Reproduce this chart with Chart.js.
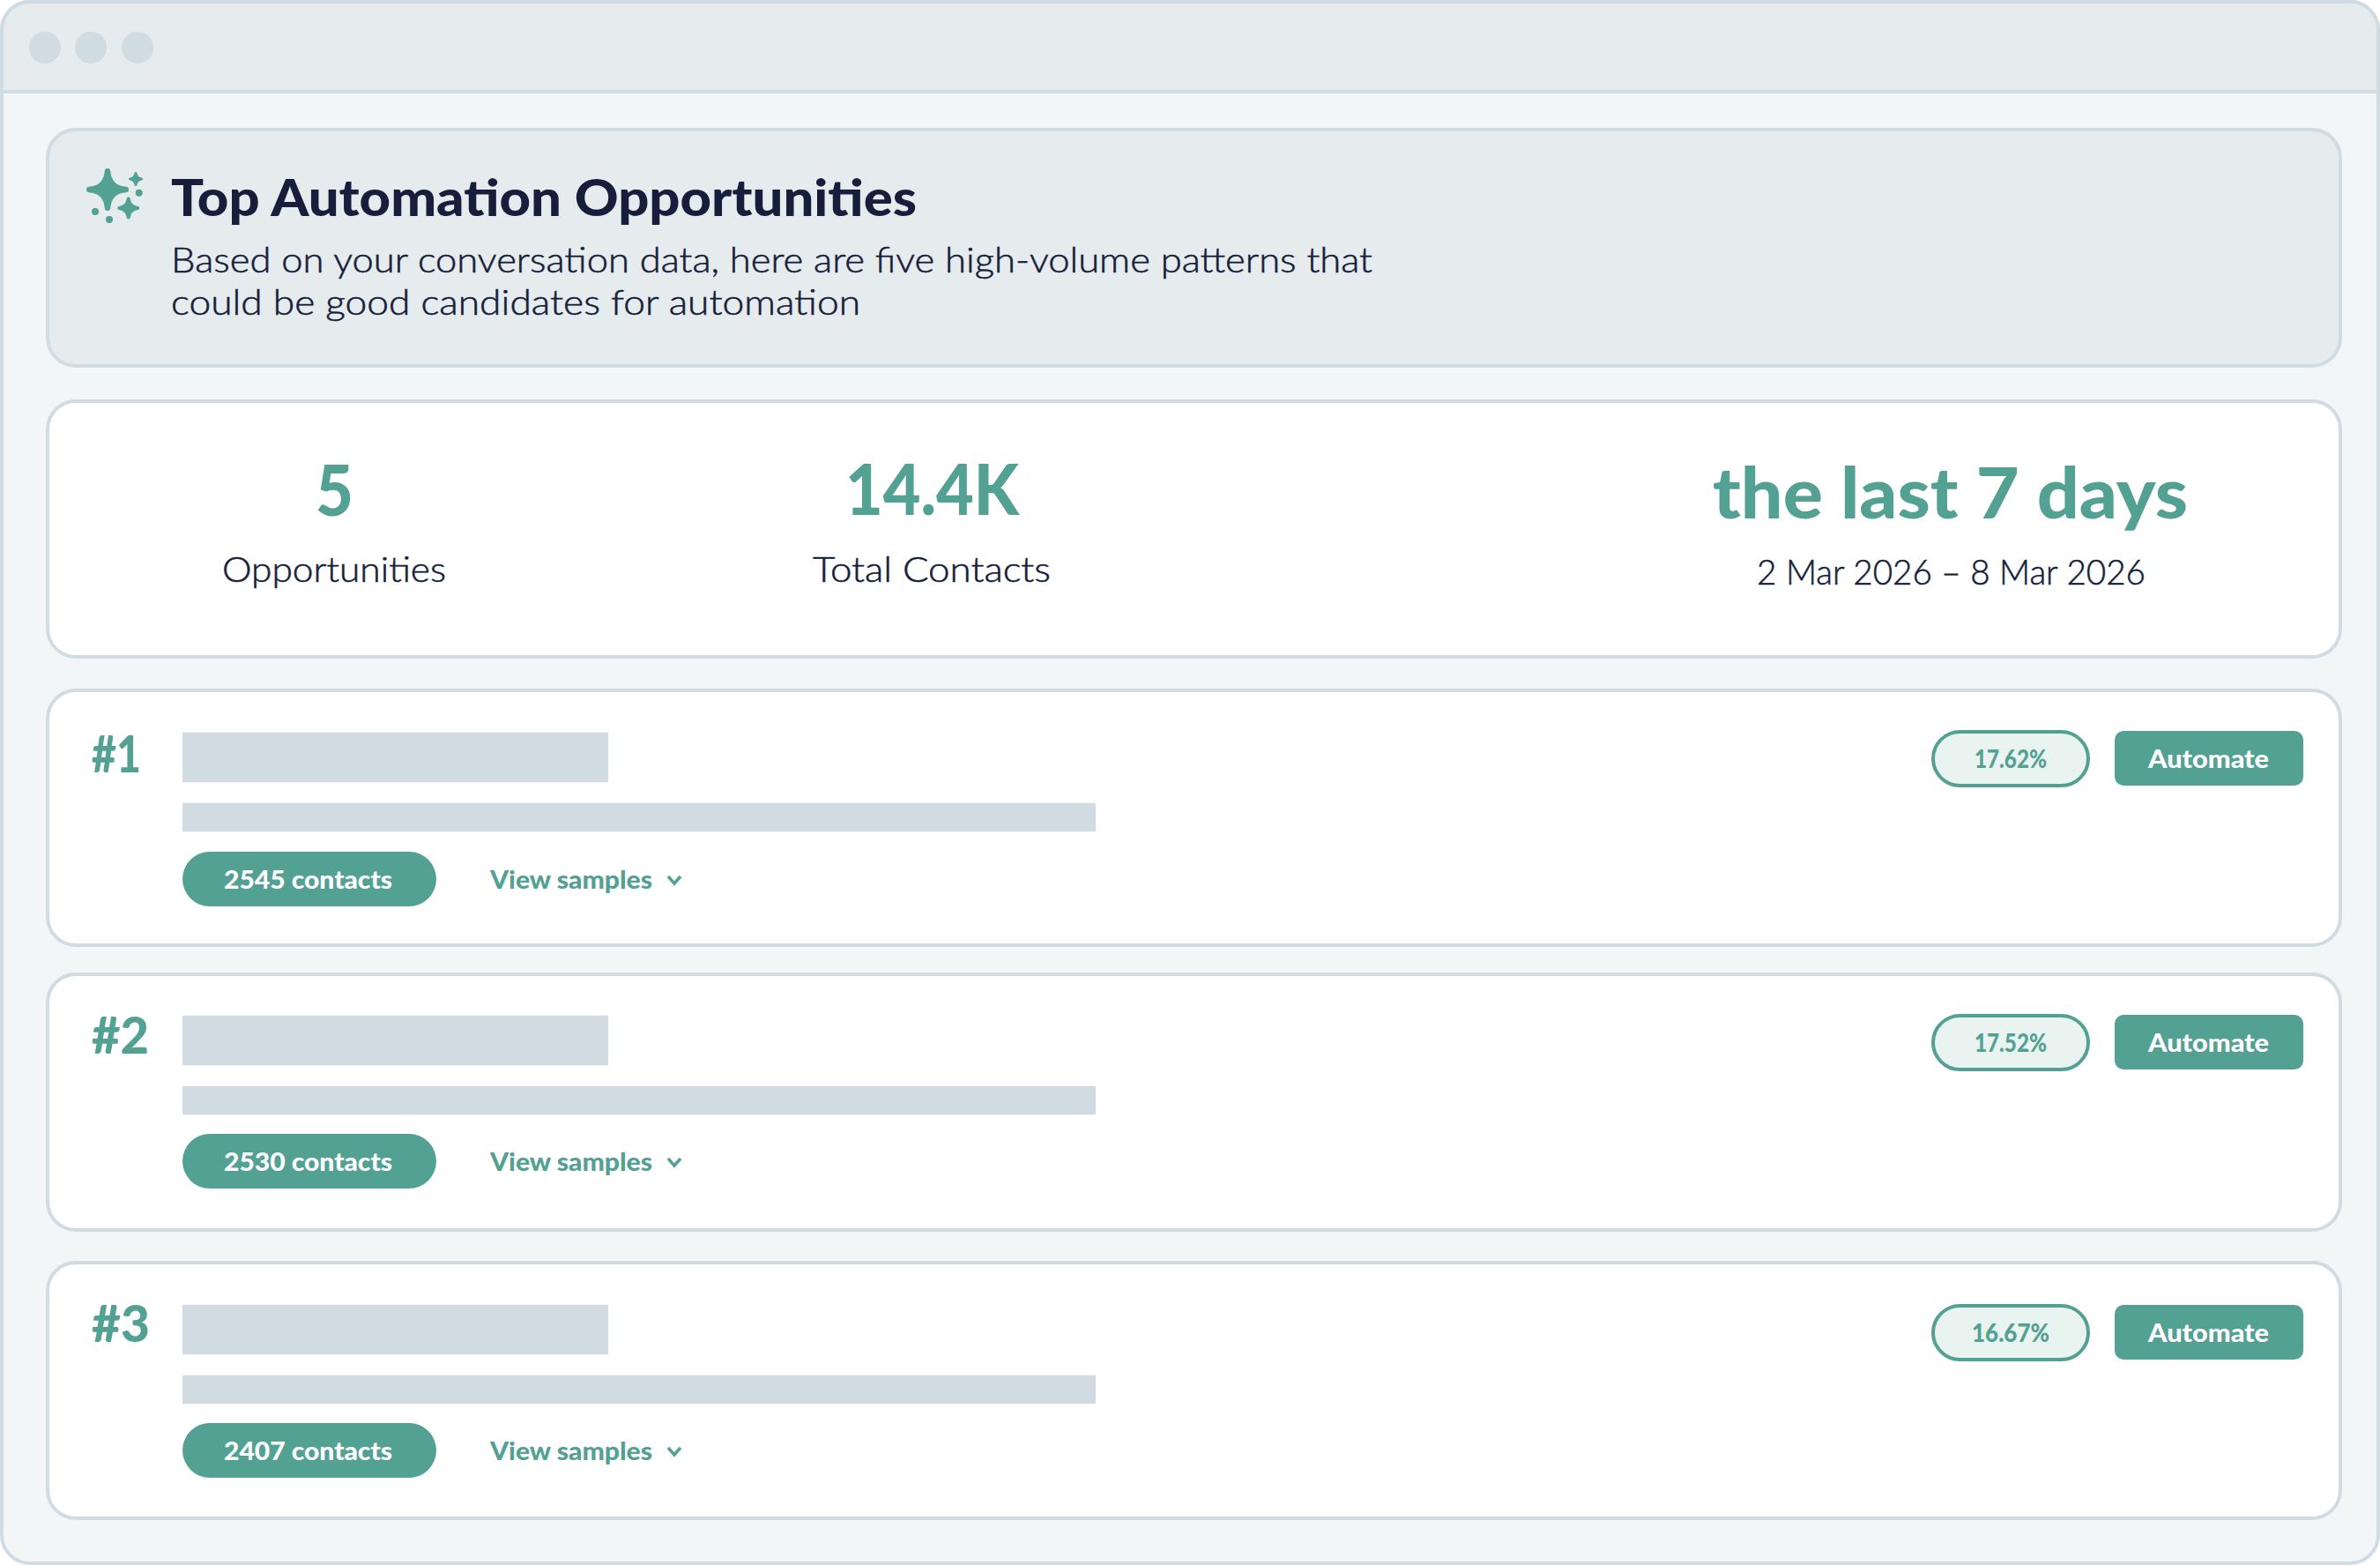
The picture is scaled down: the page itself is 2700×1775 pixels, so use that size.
<!DOCTYPE html>
<html><head><meta charset="utf-8">
<script src="https://cdn.jsdelivr.net/npm/chart.js@4"></script>
<style>
html,body{margin:0;padding:0;background:#fff;width:2700px;height:1775px;overflow:hidden}
.box{position:absolute;box-sizing:border-box}
svg{position:absolute;left:0;top:0}
canvas{position:absolute}
text{font-family:Lato,sans-serif;fill:#161e3b;font-kerning:normal}
.g{fill:#53a193}.w{fill:#fff}
.t{stroke:#161e3b;stroke-width:.55px}
</style></head><body>
<script>
// ---- data ----
const ranks = ['#1','#2','#3'];
const contacts = [2545, 2530, 2407];
const shares = ['17.62%','17.52%','16.67%'];
const rows = ['Title','Detail'];
const titleLengths = [46.6, 46.6, 46.6];
const detailLengths = [100, 100, 100];
const statOpportunities = '5';
const statContacts = '14.4K';
const periodLabel = 'the last 7 days';
const periodDates = '2 Mar 2026 – 8 Mar 2026';

// ---- layout ----
const GREEN='#53a193', LINE='#d0dbe2';
function box(l,t,w,h,css){const d=document.createElement('div');d.className='box';
  d.style.cssText=`left:${l}px;top:${t}px;width:${w}px;height:${h}px;${css||''}`;document.body.appendChild(d);return d;}
box(0,0,2700,1775,`background:#f2f6f7;border:4px solid ${LINE};border-radius:34px`);
box(0,0,2700,106,`background:#e6ebee;border:4px solid ${LINE};border-radius:34px 34px 0 0`);
[51,103,156].forEach(x=>box(x-18,36,36,36,`background:${LINE};border-radius:50%`));
function panel(t,h,bg){box(52,t,2605,h,`background:${bg};border:4px solid ${LINE};border-radius:34px`);}
panel(145,272,'#e6ebee');
panel(453,294,'#fff');
const cardTops=[781,1103,1430], cardH=[293,294,294];
const barTops=[831,1152,1480], pillTops=[966,1286,1614], sideTops=[828,1150,1479], rankBase=[876,1195,1522];
cardTops.forEach((t,i)=>panel(t,cardH[i],'#fff'));
pillTops.forEach(t=>box(207,t,288,62,`background:${GREEN};border-radius:31px`));
sideTops.forEach(t=>{
  box(2191,t,180,65,`background:#e9f3f0;border:4px solid ${GREEN};border-radius:33px`);
  box(2399,t+1,214,62,`background:${GREEN};border-radius:10px`);
});

// ---- text ----
const NS='http://www.w3.org/2000/svg';
const svg=document.createElementNS(NS,'svg');
svg.setAttribute('width',2700);svg.setAttribute('height',1775);
function T(s,x0,x1,y,size,weight,cls){const e=document.createElementNS(NS,'text');e.textContent=s;
  e.setAttribute('x',x0);e.setAttribute('y',y);e.setAttribute('font-size',size);e.setAttribute('font-weight',weight);
  e.setAttribute('textLength',x1-x0);e.setAttribute('lengthAdjust','spacingAndGlyphs');
  if(cls)e.setAttribute('class',cls);svg.appendChild(e);}
function star(cx,cy,r,k,sw){const e=document.createElementNS(NS,'path');const R=r-sw/2;
  e.setAttribute('d',`M${cx} ${cy-R}Q${cx+k} ${cy-k} ${cx+R} ${cy}Q${cx+k} ${cy+k} ${cx} ${cy+R}Q${cx-k} ${cy+k} ${cx-R} ${cy}Q${cx-k} ${cy-k} ${cx} ${cy-R}Z`);
  e.setAttribute('fill',GREEN);e.setAttribute('stroke',GREEN);e.setAttribute('stroke-width',sw);e.setAttribute('stroke-linejoin','round');svg.appendChild(e);}
function dot(cx,cy,r){const e=document.createElementNS(NS,'circle');e.setAttribute('cx',cx);e.setAttribute('cy',cy);e.setAttribute('r',r);e.setAttribute('fill',GREEN);svg.appendChild(e);}
star(122,215,24,1.5,6.5);star(154,203,8,0.8,3);star(145.7,236,12.5,1.2,4);
dot(157.7,218.7,4);dot(108,240,4);dot(124,249,4);

T('Top Automation Opportunities',194,1040,245,58,900);
T('Based on your conversation data, here are five high-volume patterns that',194,1557,309,39,300,'t');
T('could be good candidates for automation',194,976,357,39,300,'t');
T(statOpportunities,358,401,585,80,900,'g');
T(statContacts,959,1156,584,80,900,'g');
T('Opportunities',252,506,660,39,300,'t');
T('Total Contacts',922,1192,660,39,300,'t');
T(periodLabel,1943,2482,588,80,900,'g');
T(periodDates,1993,2434,663,39,300,'t');

const rankEnds=[160,169,170], pctX=[[2240,2322],[2240,2322],[2237,2325]];
ranks.forEach((r,i)=>{
  T(r,104,rankEnds[i],rankBase[i],58,900,'g');
  const pb=pillTops[i]+42;
  T(contacts[i]+' contacts',254,445,pb,29,900,'w');
  T('View samples',556,740,pb,29,900,'g');
  const c=document.createElementNS(NS,'polyline');
  c.setAttribute('points',`758,${pb-14} 765,${pb-6} 772,${pb-14}`);
  c.setAttribute('fill','none');c.setAttribute('stroke',GREEN);c.setAttribute('stroke-width',3.5);svg.appendChild(c);
  T(shares[i],pctX[i][0],pctX[i][1],sideTops[i]+43,29,900,'g');
  T('Automate',2437,2574,sideTops[i]+43,29,900,'w');
});
document.body.appendChild(svg);

// ---- placeholder bars drawn by Chart.js ----
ranks.forEach((r,i)=>{
  const cv=document.createElement('canvas');
  cv.width=1036;cv.height=136;
  cv.style.cssText=`left:207px;top:${barTops[i]-6}px;width:1036px;height:136px`;
  document.body.appendChild(cv);
  new Chart(cv,{type:'bar',data:{labels:rows,datasets:[
    {label:'Title',data:[titleLengths[i],null],backgroundColor:LINE,barThickness:56,borderWidth:0},
    {label:'Detail',data:[null,detailLengths[i]],backgroundColor:LINE,barThickness:32,borderWidth:0}
  ]},options:{indexAxis:'y',responsive:false,animation:false,devicePixelRatio:1,
    layout:{padding:0},
    plugins:{legend:{display:false},tooltip:{enabled:false},title:{display:false}},
    scales:{x:{display:false,stacked:true,min:0,max:100},y:{display:false,stacked:true}}}});
});
</script>
</body></html>
